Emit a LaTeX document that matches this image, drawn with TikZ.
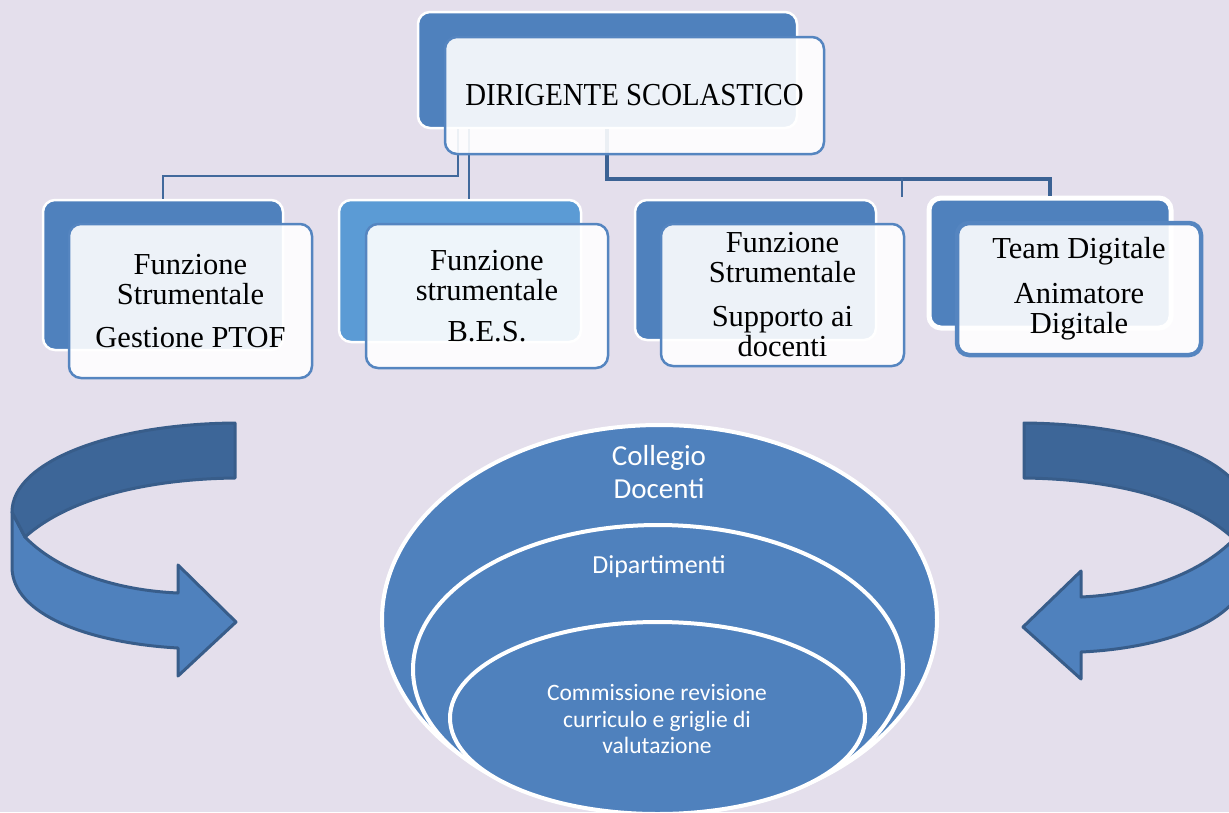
\documentclass[tikz,border=0pt]{standalone}
\usepackage{fontspec}
\setmainfont{Liberation Serif}
\newfontfamily\calfont{Carlito}
\newfontfamily\narrowserif[FakeStretch=0.9]{Liberation Serif}
\definecolor{bg}{HTML}{E4DFEC}
\definecolor{acc}{HTML}{4F81BD}
\definecolor{acclight}{HTML}{5B9BD5}
\definecolor{dk}{HTML}{385D8A}
\definecolor{dkfill}{HTML}{3D6698}
\definecolor{lnc}{HTML}{41699C}
\definecolor{lncdark}{HTML}{3B6294}
\definecolor{fbord}{HTML}{5585C0}
\begin{document}
\begin{tikzpicture}[x=1pt,y=-1pt,
  backbox/.style={draw=white, line width=2.5pt, fill=acc, rounded corners=12pt, inner sep=0pt},
  frontbox/.style={draw=fbord, line width=2.5pt, fill=white, fill opacity=0.9, text opacity=1, rounded corners=12pt, inner sep=0pt, align=center, font=\fontsize{30.5}{30}\selectfont},
  conn/.style={draw=lnc, line width=2pt},
  connthick/.style={draw=lncdark, line width=4pt},
  ring/.style={fill=acc, draw=white, line width=4pt},
  ringtext/.style={text=white, align=center},
  arrowdark/.style={fill=dkfill, draw=dk, line width=3pt, line join=round},
  arrowlight/.style={fill=acc, draw=dk, line width=3pt, line join=round}]
\fill[bg] (0,0) rectangle (1229,812);
\useasboundingbox (0,0) rectangle (1229,812);
\clip (0,0) rectangle (1229,812);

% nested ellipses
\draw[ring] (659.5,619.5) ellipse [x radius=277.5pt, y radius=194.5pt];
\draw[ring] (658,669.5) ellipse [x radius=245pt, y radius=144.5pt];
\draw[ring] (657.5,718) ellipse [x radius=207.5pt, y radius=96pt];
\node[ringtext, font=\calfont\fontsize{29}{33}\selectfont] (coll) at (659,472) {Collegio\\Docenti};
\node[ringtext, font=\calfont\fontsize{26}{30}\selectfont] (dip) at (659,567) {Dipartimenti};
\node[ringtext, font=\calfont\fontsize{23.5}{26.5}\selectfont] (comm) at (657,719) {Commissione revisione\\curriculo e griglie di\\valutazione};

% left circular arrow
\draw[arrowlight] (12,512) -- (12,567) .. controls (12,615) and (90,643) .. (178,648) -- (178,676) -- (236,622) -- (178,565) -- (178,593) .. controls (110,590) and (55,568) .. (25,537) -- cycle;
\draw[arrowdark] (235,423) .. controls (110,424) and (12,462) .. (12,512) -- (25,537) .. controls (70,497) and (150,479) .. (235,478) -- cycle;
% right circular arrow (mirrored)
\begin{scope}[shift={(1259,0)}, xscale=-1]
\draw[arrowlight] (12,512) -- (12,569) .. controls (12,618) and (90,648) .. (178,652) -- (178,679) -- (236,627) -- (178,571) -- (178,597) .. controls (110,594) and (55,570) .. (25,539) -- cycle;
\draw[arrowdark] (235,423) .. controls (110,424) and (12,462) .. (12,512) -- (25,539) .. controls (70,497) and (150,479) .. (235,478) -- cycle;
\end{scope}

% back boxes
\node[backbox, minimum width=379pt, minimum height=116pt] (dsb) at (607.5,70) {};
\node[backbox, minimum width=240pt, minimum height=150pt] (b1b) at (163,275) {};
\node[backbox, fill=acclight, minimum width=242pt, minimum height=142pt] (b2b) at (460,271) {};
\node[backbox, minimum width=241pt, minimum height=140pt] (b3b) at (755.5,270) {};
\node[backbox, line width=5pt, minimum width=242pt, minimum height=130pt] (b4b) at (1050,263) {};

% connectors
\coordinate (t3) at (902,197);
\draw[conn] ([xshift=-149.5pt]dsb.south) -- ++(0,47) -| (b1b.north);
\draw[conn] ([xshift=-138.5pt]dsb.south) -- ([xshift=-138.5pt]dsb.south |- b2b.north);
\draw[connthick] ([xshift=-0.5pt]dsb.south) -- ++(0,50) -| (b4b.north);
\draw[conn] (t3 |- 0,178) -- (t3);

% front boxes
\node[frontbox, font=\narrowserif\fontsize{32}{30}\selectfont, minimum width=379pt, minimum height=117pt] (ds) at (634.5,95.5) {DIRIGENTE SCOLASTICO};
\node[frontbox, minimum width=243pt, minimum height=154pt] (b1) at (190.5,301) {Funzione\\Strumentale\\[13pt]Gestione PTOF};
\node[frontbox, minimum width=242pt, minimum height=144pt] (b2) at (487,296) {Funzione\\strumentale\\[11pt]B.E.S.};
\node[frontbox, minimum width=243pt, minimum height=142pt] (b3) at (782.5,295) {Funzione\\Strumentale\\[14pt]Supporto ai\\docenti};
\node[frontbox, line width=4.5pt, minimum width=244pt, minimum height=132pt] (b4) at (1079,289) {Team Digitale\\[15pt]Animatore\\Digitale};
\end{tikzpicture}
\end{document}
